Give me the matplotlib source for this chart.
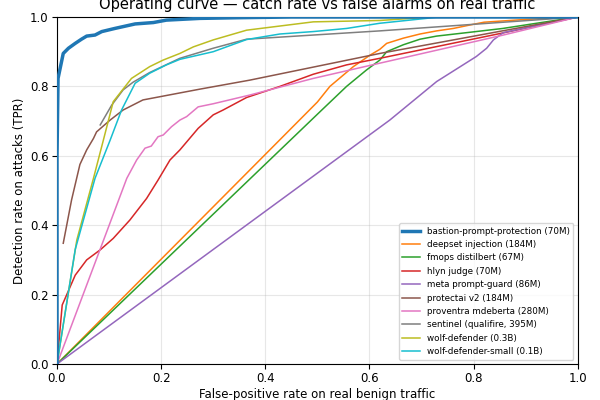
import matplotlib
matplotlib.use("Agg")
import matplotlib.pyplot as plt

# ROC points (fpr, tpr)
bastion_fpr = [0.0, 0.0, 0.002, 0.012, 0.022, 0.035, 0.047, 0.057, 0.073, 0.086, 0.111, 0.15, 0.185, 0.21, 0.274, 0.35, 0.45, 1.0]
bastion_tpr = [0.0, 0.6, 0.823, 0.895, 0.91, 0.924, 0.936, 0.945, 0.948, 0.958, 0.967, 0.98, 0.984, 0.991, 0.996, 0.998, 1.0, 1.0]

deepset_fpr = [0.0, 0.5, 0.524, 0.569, 0.601, 0.62, 0.633, 0.665, 0.697, 0.729, 0.761, 0.793, 0.82, 0.9, 1.0]
deepset_tpr = [0.0, 0.755, 0.8, 0.857, 0.89, 0.907, 0.924, 0.939, 0.951, 0.96, 0.967, 0.977, 0.985, 0.993, 1.0]

fmops_fpr = [0.0, 0.505, 0.556, 0.594, 0.62, 0.633, 0.665, 0.697, 0.729, 0.793, 0.856, 0.921, 1.0]
fmops_tpr = [0.0, 0.727, 0.8, 0.847, 0.876, 0.9, 0.92, 0.936, 0.945, 0.956, 0.967, 0.982, 1.0]

hlyn_fpr = [0.0, 0.01, 0.017, 0.035, 0.057, 0.083, 0.108, 0.14, 0.172, 0.194, 0.217, 0.236, 0.271, 0.3, 0.319, 0.364, 0.428, 0.492, 0.556, 0.62, 0.856, 1.0]
hlyn_tpr = [0.0, 0.17, 0.194, 0.256, 0.3, 0.329, 0.362, 0.415, 0.477, 0.53, 0.588, 0.617, 0.679, 0.718, 0.732, 0.768, 0.8, 0.835, 0.862, 0.881, 0.954, 1.0]

meta_fpr = [0.0, 0.639, 0.729, 0.805, 0.825, 0.838, 0.857, 1.0]
meta_tpr = [0.0, 0.703, 0.814, 0.886, 0.91, 0.934, 0.955, 1.0]

protectai_fpr = [0.012, 0.028, 0.044, 0.057, 0.07, 0.076, 0.102, 0.127, 0.165, 0.274, 0.37, 0.62, 1.0]
protectai_tpr = [0.348, 0.473, 0.575, 0.617, 0.65, 0.669, 0.703, 0.732, 0.761, 0.792, 0.818, 0.895, 1.0]

proventra_fpr = [0.0, 0.134, 0.153, 0.169, 0.181, 0.194, 0.204, 0.22, 0.236, 0.249, 0.271, 0.3, 0.37, 0.492, 0.62, 0.857, 1.0]
proventra_tpr = [0.0, 0.535, 0.588, 0.622, 0.628, 0.655, 0.66, 0.684, 0.703, 0.713, 0.741, 0.75, 0.775, 0.823, 0.867, 0.948, 1.0]

sentinel_fpr = [0.083, 0.105, 0.127, 0.146, 0.178, 0.236, 0.3, 0.364, 0.62, 1.0]
sentinel_tpr = [0.689, 0.746, 0.79, 0.812, 0.84, 0.881, 0.91, 0.936, 0.96, 1.0]

wolf_fpr = [0.0, 0.038, 0.07, 0.089, 0.108, 0.143, 0.178, 0.204, 0.236, 0.262, 0.3, 0.364, 0.428, 0.492, 0.62, 0.72, 1.0]
wolf_tpr = [0.0, 0.357, 0.535, 0.645, 0.756, 0.823, 0.857, 0.876, 0.895, 0.914, 0.934, 0.962, 0.974, 0.986, 0.99, 1.0, 1.0]

wolf_small_fpr = [0.0, 0.035, 0.073, 0.102, 0.124, 0.15, 0.178, 0.21, 0.236, 0.3, 0.364, 0.428, 0.492, 0.556, 0.62, 0.728, 1.0]
wolf_small_tpr = [0.0, 0.33, 0.535, 0.645, 0.732, 0.809, 0.838, 0.862, 0.878, 0.9, 0.935, 0.951, 0.958, 0.967, 0.982, 0.999, 1.0]

models = [
    ("bastion-prompt-protection (70M)", bastion_fpr, bastion_tpr),
    ("deepset injection (184M)", deepset_fpr, deepset_tpr),
    ("fmops distilbert (67M)", fmops_fpr, fmops_tpr),
    ("hlyn judge (70M)", hlyn_fpr, hlyn_tpr),
    ("meta prompt-guard (86M)", meta_fpr, meta_tpr),
    ("protectai v2 (184M)", protectai_fpr, protectai_tpr),
    ("proventra mdeberta (280M)", proventra_fpr, proventra_tpr),
    ("sentinel (qualifire, 395M)", sentinel_fpr, sentinel_tpr),
    ("wolf-defender (0.3B)", wolf_fpr, wolf_tpr),
    ("wolf-defender-small (0.1B)", wolf_small_fpr, wolf_small_tpr),
]

fig = plt.figure(figsize=(6, 4), dpi=100)
ax = fig.add_axes([0.095, 0.09, 0.868, 0.8675])

for i, (name, fpr, tpr) in enumerate(models):
    lw = 2.5 if i == 0 else 1.1
    ax.plot(fpr, tpr, color=f"C{i}", lw=lw, label=name, zorder=3 if i == 0 else 2)

ax.set_xlim(0, 1)
ax.set_ylim(0, 1)
ax.grid(True, alpha=0.3)
ax.tick_params(labelsize=8.5, pad=2.5)
ax.set_xlabel("False-positive rate on real benign traffic", fontsize=8.5, labelpad=2)
ax.set_ylabel("Detection rate on attacks (TPR)", fontsize=8.5, labelpad=3)
ax.set_title("Operating curve \u2014 catch rate vs false alarms on real traffic", fontsize=10.5)
ax.legend(loc="lower right", fontsize=6.3)

fig.savefig("out.png", dpi=100)
